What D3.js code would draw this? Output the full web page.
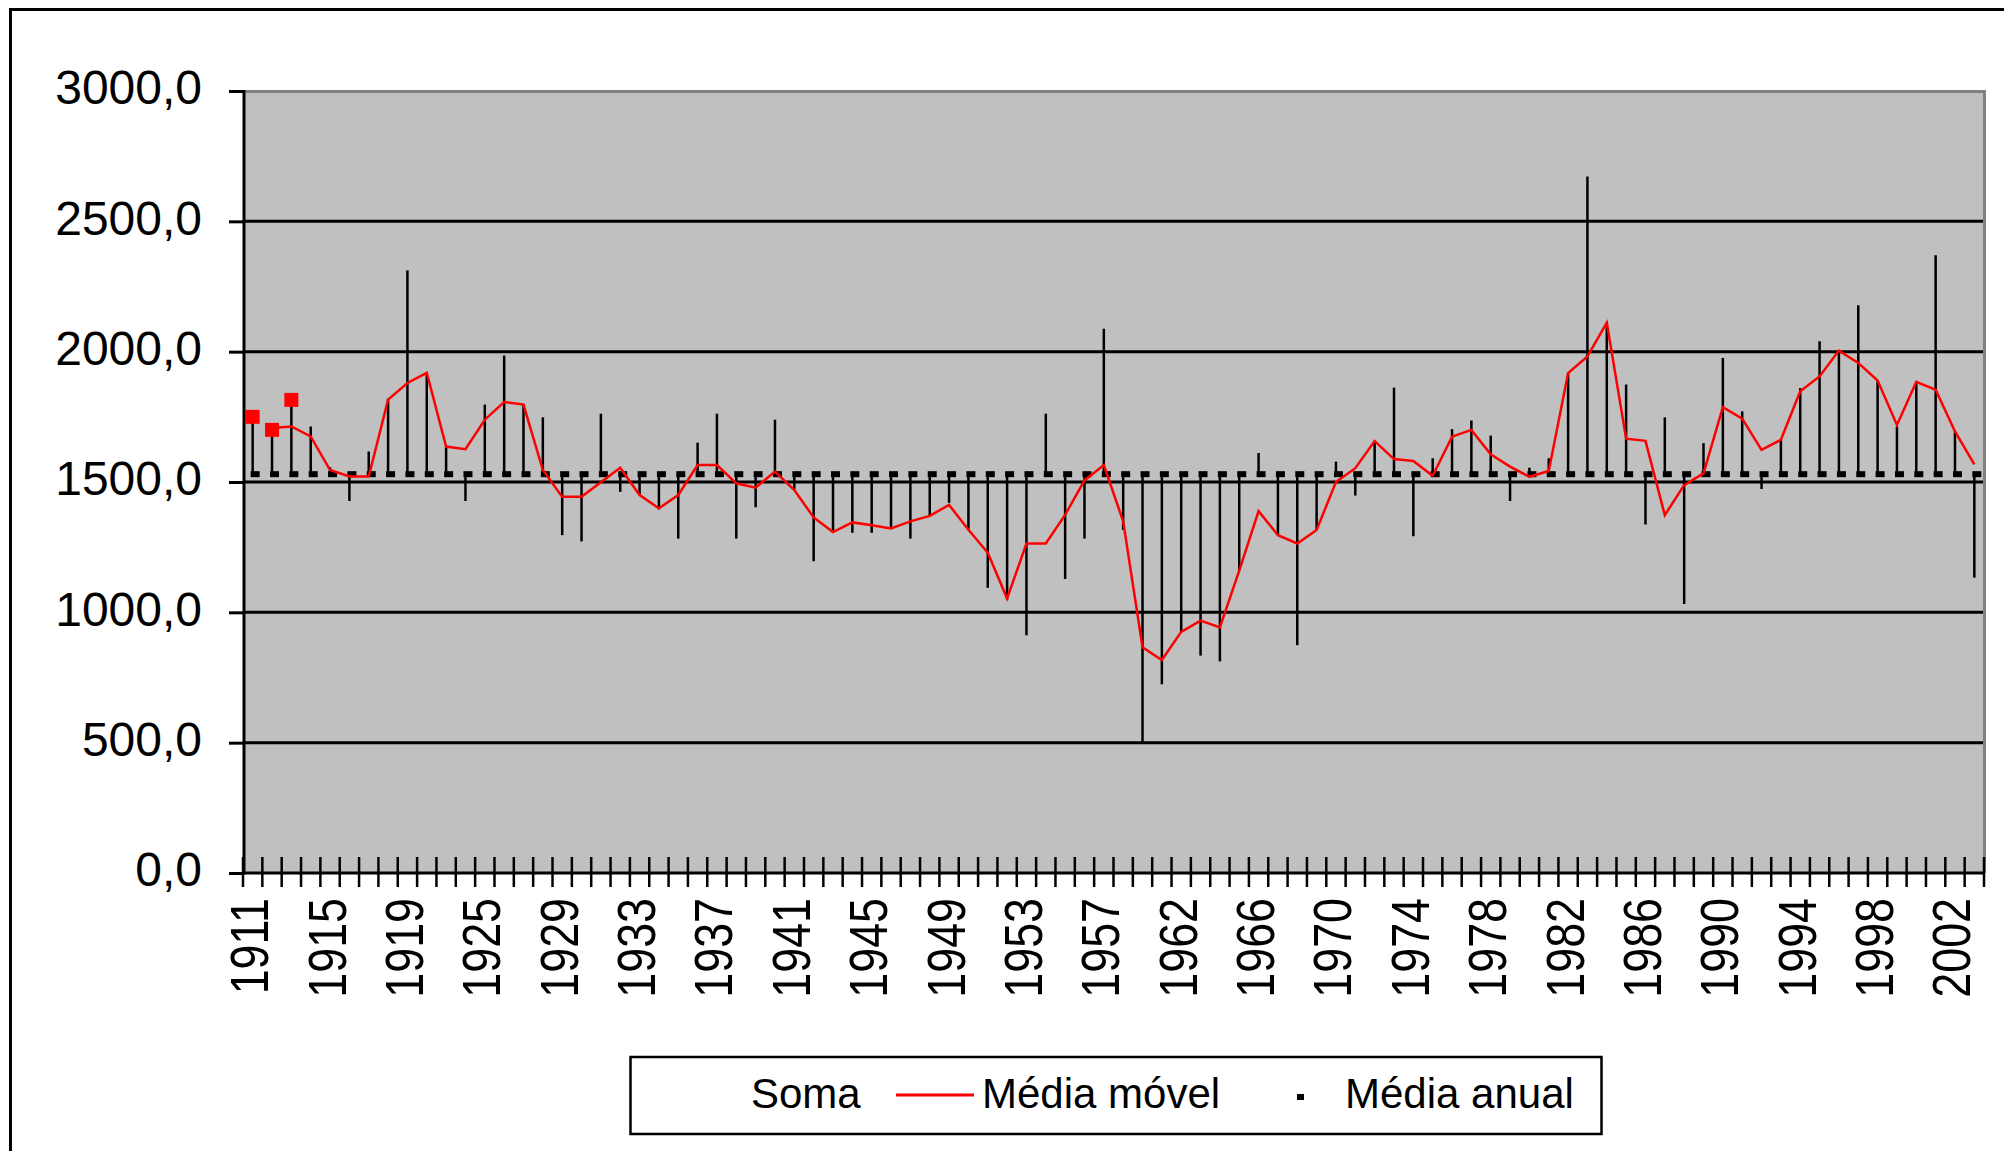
<!DOCTYPE html>
<html>
<head>
<meta charset="utf-8">
<script src="https://cdn.jsdelivr.net/npm/d3@7"></script>
<style>
  html, body { margin: 0; padding: 0; background: #fff; }
  svg { display: block; }
  text { font-family: "Liberation Sans", Arial, sans-serif; fill: #000; }
</style>
</head>
<body>
<svg id="chart" width="2004" height="1151"></svg>
<script>
// ---- data ----
const years = [
  1911,1912,1913,1914,1915,1916,1917,1918,1919,1920,1921,1922,1925,1926,1927,1928,
  1929,1930,1931,1932,1933,1934,1935,1936,1937,1938,1939,1940,1941,1942,1943,1944,
  1945,1946,1947,1948,1949,1950,1951,1952,1953,1954,1955,1956,1957,1958,1959,1960,
  1962,1963,1964,1965,1966,1967,1968,1969,1970,1971,1972,1973,1974,1975,1976,1977,
  1978,1979,1980,1981,1982,1983,1984,1985,1986,1987,1988,1989,1990,1991,1992,1993,
  1994,1995,1996,1997,1998,1999,2000,2001,2002,2003
];
const soma = [
  1750,1700,1815,1713,1557,1427,1617,1820,2312,1920,1640,1427,1797,1985,1797,1748,
  1296,1272,1762,1462,1450,1395,1283,1651,1762,1283,1403,1739,1472,1196,1305,1305,
  1305,1320,1283,1370,1420,1316,1094,1049,912,1762,1128,1283,2088,1316,500,724,
  925,834,812,1160,1611,1296,874,1316,1578,1448,1657,1862,1292,1591,1703,1736,
  1678,1427,1555,1591,1918,2672,2111,1874,1337,1748,1032,1649,1976,1771,1473,1662,
  1860,2040,2005,2178,1889,1713,1884,2370,1694,1133
];
const mediaMovel = [
  null,1707,1713,1675,1546,1521,1521,1816,1880,1919,1636,1626,1739,1807,1797,1546,
  1443,1443,1499,1555,1450,1399,1450,1565,1565,1495,1478,1540,1469,1364,1308,1345,
  1334,1322,1349,1370,1412,1317,1229,1053,1264,1264,1374,1506,1565,1349,866,817,
  925,968,942,1160,1388,1296,1264,1316,1500,1553,1657,1588,1581,1524,1674,1700,
  1606,1559,1520,1542,1918,1982,2111,1666,1658,1373,1488,1533,1787,1743,1623,1662,
  1848,1905,2004,1957,1889,1719,1884,1854,1694,1568
];
const mediaAnualValor = 1530;
const yTicks = [0, 500, 1000, 1500, 2000, 2500, 3000];
const destaqueAnos = [1911, 1912, 1913];
const legendLabels = ["Soma", "Média móvel", "Média anual"];

(function () {
// ---- layout ----
const svg = d3.select("#chart");
const pL = 243, pR = 1984, pT = 91, pB = 873;

const x = d3.scaleBand().domain(years).range([pL, pR]).padding(0);
const y = d3.scaleLinear().domain([0, 3000]).range([pB, pT]);
const cx = d => x(d) + x.bandwidth() / 2;

const mediaAnual = years.map(() => mediaAnualValor);

// outer frame
svg.append("rect").attr("x", 10.5).attr("y", 9.5).attr("width", 2100).attr("height", 1300)
  .attr("fill", "none").attr("stroke", "#000").attr("stroke-width", 3);

// plot area
svg.append("rect").attr("x", pL).attr("y", pT).attr("width", pR - pL).attr("height", pB - pT)
  .attr("fill", "#C0C0C0");

// gridlines
svg.append("g").selectAll("line").data(yTicks.filter(v => v > 0 && v < 3000)).join("line")
  .attr("x1", pL).attr("x2", pR).attr("y1", d => y(d)).attr("y2", d => y(d))
  .attr("stroke", "#000").attr("stroke-width", 3);

// plot border (top/right) gray
svg.append("path")
  .attr("d", `M${pL},${pT + 0.5}H${pR + 0.5}V${pB}`)
  .attr("fill", "none").attr("stroke", "#808080").attr("stroke-width", 3);

// bars: from média anual to soma
svg.append("g").selectAll("line").data(years).join("line")
  .attr("x1", d => cx(d)).attr("x2", d => cx(d))
  .attr("y1", (d, i) => y(mediaAnual[i])).attr("y2", (d, i) => y(soma[i]))
  .attr("stroke", "#000").attr("stroke-width", 2.5);

// média anual dash markers
svg.append("g").selectAll("rect").data(years).join("rect")
  .attr("x", d => cx(d) - 2).attr("y", (d, i) => y(mediaAnual[i]) - 3)
  .attr("width", 9).attr("height", 6).attr("fill", "#000");

// moving average line
const line = d3.line()
  .defined(d => d[1] != null)
  .x(d => cx(d[0])).y(d => y(d[1]));
svg.append("path")
  .datum(years.map((yr, i) => [yr, mediaMovel[i]]))
  .attr("d", line).attr("fill", "none").attr("stroke", "#FF0000").attr("stroke-width", 2.5)
  .attr("stroke-linejoin", "miter");

// highlighted red squares
svg.append("g").selectAll("rect").data(destaqueAnos).join("rect")
  .attr("x", d => cx(d) - 7).attr("y", d => y(soma[years.indexOf(d)]) - 7)
  .attr("width", 14).attr("height", 14).attr("fill", "#FF0000");

// y axis
const yAxis = d3.axisLeft(y).tickValues(yTicks).tickSize(15).tickPadding(27)
  .tickFormat(d => d3.format(".1f")(d).replace(".", ","));
const gy = svg.append("g").attr("transform", `translate(${pL + 1},0)`).call(yAxis);
gy.select(".domain").remove();
gy.selectAll(".tick line").attr("stroke", "#000").attr("stroke-width", 3);
gy.selectAll(".tick text").attr("font-size", 48).attr("dy", "0.27em")
  .attr("font-family", "'Liberation Sans', Arial, sans-serif").attr("fill", "#000");
svg.append("line").attr("x1", pL + 1).attr("x2", pL + 1).attr("y1", pT - 1).attr("y2", pB + 1.5)
  .attr("stroke", "#000").attr("stroke-width", 3);

// x axis line
svg.append("line").attr("x1", pL).attr("x2", pR + 1).attr("y1", pB).attr("y2", pB)
  .attr("stroke", "#000").attr("stroke-width", 3);
// x ticks at category boundaries
const bounds = years.map(d => x(d)).concat([pR]);
svg.append("g").selectAll("line").data(bounds).join("line")
  .attr("x1", d => d).attr("x2", d => d).attr("y1", pB - 16).attr("y2", pB + 14)
  .attr("stroke", "#000").attr("stroke-width", 2.5);

// x labels every 4th category
svg.append("g").selectAll("text").data(years.filter((d, i) => i % 4 === 0)).join("text")
  .attr("transform", d => `translate(${cx(d) - 3},898) rotate(-90) scale(0.83,1)`)
  .attr("text-anchor", "end").attr("dominant-baseline", "central")
  .attr("font-size", 54).text(d => d);

// legend
const lg = svg.append("g");
lg.append("rect").attr("x", 630.5).attr("y", 1057).attr("width", 971).attr("height", 77)
  .attr("fill", "#fff").attr("stroke", "#000").attr("stroke-width", 2.5);
lg.append("text").attr("x", 751).attr("y", 1108).attr("font-size", 42).text(legendLabels[0]);
lg.append("line").attr("x1", 896).attr("x2", 974).attr("y1", 1095).attr("y2", 1095)
  .attr("stroke", "#FF0000").attr("stroke-width", 3);
lg.append("text").attr("x", 982).attr("y", 1108).attr("font-size", 42).text(legendLabels[1]);
lg.append("rect").attr("x", 1297).attr("y", 1094).attr("width", 7).attr("height", 6).attr("fill", "#000");
lg.append("text").attr("x", 1345).attr("y", 1108).attr("font-size", 42).text(legendLabels[2]);
})();
</script>
</body>
</html>
